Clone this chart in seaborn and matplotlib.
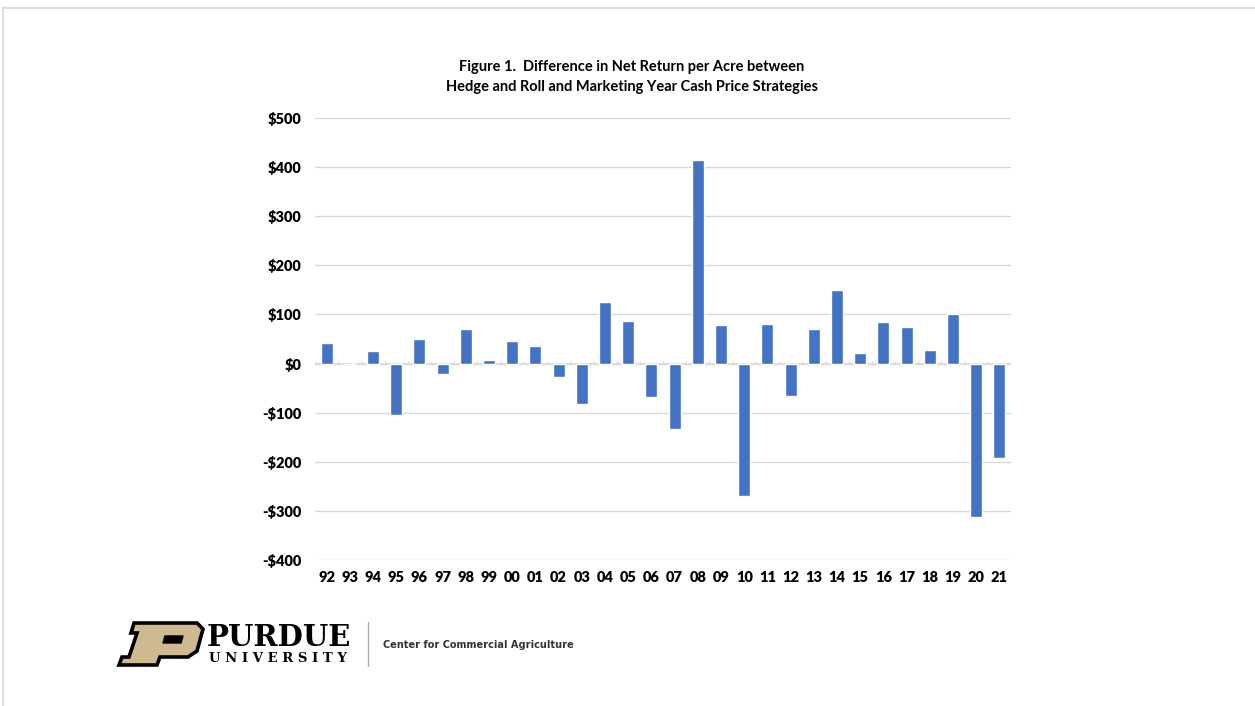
import numpy as np
import pandas as pd
import matplotlib
matplotlib.use("Agg")
import matplotlib.pyplot as plt
import seaborn as sns
from matplotlib.patches import Polygon
from matplotlib.lines import Line2D

years = ["92", "93", "94", "95", "96", "97", "98", "99", "00", "01",
         "02", "03", "04", "05", "06", "07", "08", "09", "10", "11",
         "12", "13", "14", "15", "16", "17", "18", "19", "20", "21"]
values = [41, 0, 26, -105, 50, -22, 70, 7, 46, 35,
          -28, -82, 125, 86, -69, -133, 414, 78, -270, 81,
          -67, 70, 150, 22, 85, 75, 28, 100, -313, -192]
ytick_values = [-400, -300, -200, -100, 0, 100, 200, 300, 400, 500]
ytick_labels = ["-$400", "-$300", "-$200", "-$100", "$0", "$100", "$200", "$300", "$400", "$500"]
title_text = "Figure 1.  Difference in Net Return per Acre between\nHedge and Roll and Marketing Year Cash Price Strategies"

sns.set_theme(style="white")
plt.rcParams["font.family"] = ["Lato", "DejaVu Sans"]

W, H = 1255, 706
fig = plt.figure(figsize=(W / 100, H / 100), dpi=100)
fig.patch.set_facecolor("white")

def fx(px):
    return px / W

def fy(py):
    return 1 - py / H

ax = fig.add_axes([fx(315), fy(560), fx(1011) - fx(315), fy(118) - fy(560)])
df = pd.DataFrame({"year": years, "value": values})
sns.barplot(data=df, x="year", y="value", color="#4472C4", width=0.52,
            saturation=1, ax=ax, zorder=3)

ax.set_ylim(-400, 500)
ax.set_xlim(-0.5, len(years) - 0.5)
ax.set_yticks(ytick_values)
ax.set_yticklabels(ytick_labels, fontsize=10.5, fontweight="heavy", color="#000000")
ax.set_xticks(range(len(years)))
ax.set_xticklabels(years, fontsize=10.5, fontweight="heavy", color="#000000")
ax.tick_params(axis="both", length=0)
ax.tick_params(axis="y", pad=10)
ax.tick_params(axis="x", pad=8)
ax.set_xlabel("")
ax.set_ylabel("")
for s in ax.spines.values():
    s.set_visible(False)
ax.grid(axis="y", color="#D9D9D9", linewidth=1, zorder=0)
ax.axhline(0, color="#D9D9D9", linewidth=1.2, zorder=1)
bounds = np.arange(-0.5, len(years) + 0.5, 1.0)
ax.vlines(bounds, 0, 5, color="#D9D9D9", linewidth=1, zorder=1)

fig.text(fx(632), fy(77), title_text, ha="center", va="center",
         fontsize=10.5, fontweight="bold", linespacing=1.55, color="#000000")

# frame lines
fig.add_artist(Line2D([fx(3), 1], [fy(8), fy(8)], color="#DDDDDD", linewidth=1.5))
fig.add_artist(Line2D([fx(3), fx(3)], [fy(8), 0], color="#DDDDDD", linewidth=1.5))

# Purdue logo
outer = [(134, 623), (197, 623), (203, 629), (197, 651), (188, 657), (160, 657),
         (157, 665), (119, 665), (122, 657), (129, 657), (137, 633), (131, 633)]
fig.add_artist(Polygon([(fx(x), fy(y)) for x, y in outer], closed=True,
                       facecolor="#CFB991", edgecolor="#000000", linewidth=2.6,
                       transform=fig.transFigure))
hole = [(165, 636), (183, 636), (181, 643), (163, 643)]
fig.add_artist(Polygon([(fx(x), fy(y)) for x, y in hole], closed=True,
                       facecolor="#000000", edgecolor="#000000", linewidth=1,
                       transform=fig.transFigure))
fig.text(fx(207), fy(637), "PURDUE", ha="left", va="center", fontsize=21,
         fontweight="bold", family=["DejaVu Serif"], color="#000000")
fig.text(fx(209), fy(658), "U N I V E R S I T Y", ha="left", va="center", fontsize=9.5,
         fontweight="bold", family=["DejaVu Serif"], color="#000000")
fig.add_artist(Line2D([fx(368), fx(368)], [fy(622), fy(666)], color="#AAAAAA", linewidth=1))
fig.text(fx(383), fy(645), "Center for Commercial Agriculture", ha="left", va="center",
         fontsize=7.8, fontweight="bold", family=["DejaVu Sans"], fontstretch="condensed",
         color="#333333")

fig.savefig("out.png", dpi=100, facecolor="white")
